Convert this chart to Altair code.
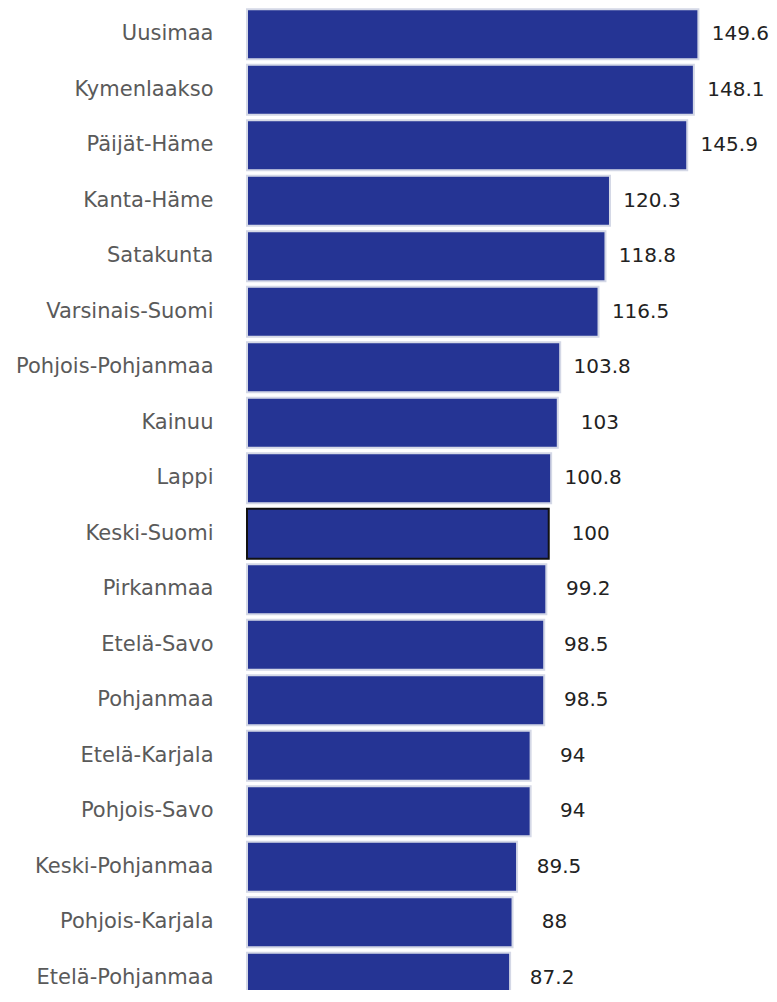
import altair as alt
import pandas as pd

regions = ["Uusimaa", "Kymenlaakso", "Päijät-Häme", "Kanta-Häme", "Satakunta",
           "Varsinais-Suomi", "Pohjois-Pohjanmaa", "Kainuu", "Lappi", "Keski-Suomi",
           "Pirkanmaa", "Etelä-Savo", "Pohjanmaa", "Etelä-Karjala", "Pohjois-Savo",
           "Keski-Pohjanmaa", "Pohjois-Karjala", "Etelä-Pohjanmaa"]
values = [149.6, 148.1, 145.9, 120.3, 118.8, 116.5, 103.8, 103, 100.8, 100,
          99.2, 98.5, 98.5, 94, 94, 89.5, 88, 87.2]
highlight = "Keski-Suomi"

df = pd.DataFrame({"region": regions, "value": values})
df["hl"] = df["region"] == highlight

y_enc = alt.Y("region:N", sort=None, title=None,
              scale=alt.Scale(range=[-1.5, 997.5], paddingInner=0.1, paddingOuter=0.05),
              axis=alt.Axis(domain=False, ticks=False, labelPadding=34,
                            labelFont="DejaVu Sans", labelFontSize=21,
                            labelColor="#5a5a5a", labelLimit=400))
x_enc = alt.X("value:Q", title=None, scale=alt.Scale(domain=[0, 173], nice=False),
              axis=None)

bars = alt.Chart(df).mark_bar(color="#253494", strokeWidth=2).encode(
    x=x_enc, y=y_enc,
    stroke=alt.condition("datum.hl", alt.value("#111111"), alt.value("#d4d8e6")),
)
labels = alt.Chart(df).mark_text(align="center", baseline="middle", dx=42,
                                 font="DejaVu Sans", fontSize=20, color="#222222").encode(
    x=x_enc, y=y_enc, text=alt.Text("value:Q", format="~g"))

chart = (bars + labels).properties(
    width=522, height=982,
    autosize=alt.AutoSizeParams(type="none"),
    padding={"left": 239, "top": 0, "right": 0, "bottom": 0},
).configure_view(stroke=None)

chart.save("out.html", embed_options={"renderer": "svg", "actions": False})
